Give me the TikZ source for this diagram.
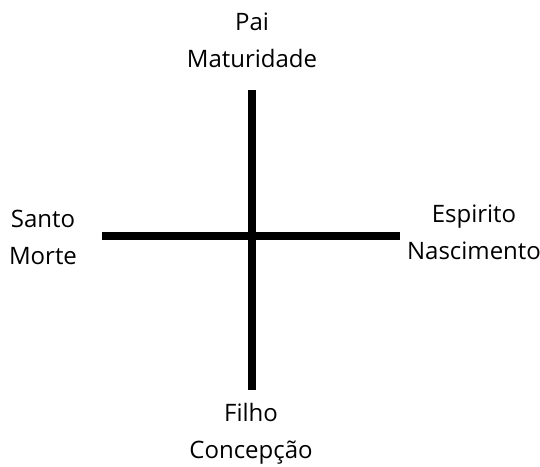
\documentclass[tikz,border=0pt]{standalone}
\usepackage{fontspec}
\setmainfont{Open Sans}
\usetikzlibrary{calc}
\tikzset{
  bar/.style={line width=8pt,black},
  lbl/.style={align=center,font=\fontsize{24}{37}\selectfont,inner sep=0pt}
}
\begin{document}
\begin{tikzpicture}[x=1pt,y=1pt]
	 \useasboundingbox(0,0)rectangle(540,466);
	 \coordinate(N)at(252,376);\coordinate(S)at(252,76);
	 \coordinate(W)at(102,230);\coordinate(E)at(400,230);
	 \draw[bar](N)--(S);
	 \draw[bar](W)--(E);
	 \node[lbl](pai)at(252,426){Pai\\Maturidade};
	 \node[lbl](santo)at(43,229){Santo\\Morte};
	 \node[lbl](espirito)at(474,234){Espirito\\Nascimento};
	 \node[lbl](filho)at(251,32){Filho\\Concepção};
\end{tikzpicture}
\end{document}
